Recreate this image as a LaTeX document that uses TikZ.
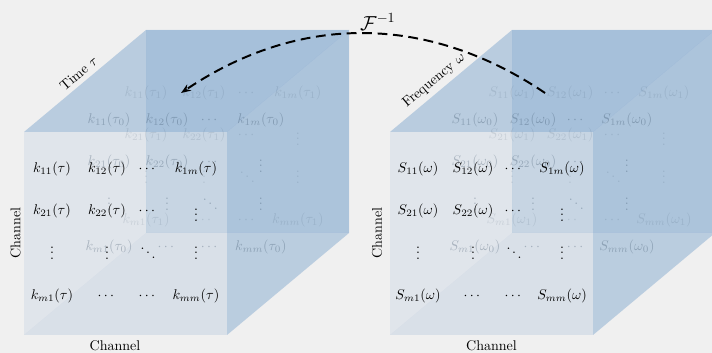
\documentclass[tikz,border=0pt]{standalone}
\usepackage{amsmath}
\usetikzlibrary{arrows.meta}

\definecolor{cubeblue}{RGB}{70,130,190}
\definecolor{paper}{RGB}{240,240,240}
\colorlet{layerink}{cubeblue!40!black}

\begin{document}
\begin{tikzpicture}[
    x=0.25mm, y=0.25mm,
    face/.style={fill=cubeblue, fill opacity=#1},
    entry/.style={inner sep=1pt, text opacity=#1}
]

% Canvas
\useasboundingbox (0,0) rectangle (712,353);
\clip (0,0) rectangle (712,353);
\fill[paper] (0,0) rectangle (712,353);

\foreach \cx/\f/\v/\axis/\apos/\bx/\lx in {0/k/\tau/{Time $\tau$}/0.5/115/15.5,
        366/S/\omega/{Frequency $\omega$}/0.42/125.5/11} {
\begin{scope}[shift={(\cx,0)}]
    % Cube corners
    \coordinate (\f-fsw) at (24,18);
    \coordinate (\f-fse) at (227,18);
    \coordinate (\f-fne) at (227,221);
    \coordinate (\f-fnw) at (24,221);
    \coordinate (\f-bsw) at (146,120);
    \coordinate (\f-bse) at (349,120);
    \coordinate (\f-bne) at (349,323);
    \coordinate (\f-bnw) at (146,323);

    % Faces
    \fill[face=0.21] (\f-bsw) rectangle (\f-bne);
    \fill[face=0.06] (\f-fsw) -- (\f-fnw) -- (\f-bnw) -- (\f-bsw) -- cycle;
    \fill[face=0.10] (\f-fsw) -- (\f-fse) -- (\f-bse) -- (\f-bsw) -- cycle;
    \fill[face=0.28] (\f-fnw) -- (\f-fne) -- (\f-bne) -- (\f-bnw) -- cycle;
    \fill[face=0.23] (\f-fse) -- (\f-fne) -- (\f-bne) -- (\f-bse) -- cycle;
    \fill[face=0.03] (\f-fsw) rectangle (\f-fne);

    % Matrix layers: back, middle, front
    \foreach \l/\mx/\my/\a/\w/\op/\tc in {b/146/260/{_1}/1.055/0.12/layerink,
            m/109/233/{_0}/1.055/0.28/layerink, f/52/184//1/1/black} {
        \foreach \ox/\oy/\e [count=\i] in {
                0/0/{\f_{11}(\v\a)}, 55/0/{\f_{12}(\v\a)}, 96/0/\cdots, 144/0/{\f_{1m}(\v\a)},
                0/-42/{\f_{21}(\v\a)}, 55/-42/{\f_{22}(\v\a)}, 96/-42/\cdots, 144/-42/\vdots,
                0/-80/\vdots, 55/-80/\vdots, 96/-80/\ddots, 144/-80/\vdots,
                0/-127/{\f_{m1}(\v\a)}, 55/-127/\cdots, 96/-127/\cdots, 144/-127/{\f_{mm}(\v\a)}}
            \node[entry=\op, text=\tc] (\f\l\i) at (\mx+\w*\ox, \my+\oy) {$\e$};
    }

    % Axis labels
    \path (\f-fnw) -- (\f-bnw) node[pos=\apos, above, sloped] (\f-axis) {\axis};
    \node[rotate=90] (\f-rows) at (\lx,120) {Channel};
    \node (\f-cols) at (\bx,7) {Channel};
\end{scope}
}

% Inverse transform
\draw[line width=1.4pt, dash pattern=on 7pt off 4pt, -{Stealth[length=7pt]}]
    (Sb2.west) to[bend right=34] node[pos=0.46, above, font=\Large, inner sep=2pt] (finv) {$\mathcal{F}^{-1}$} (kb2.west);

\end{tikzpicture}
\end{document}
